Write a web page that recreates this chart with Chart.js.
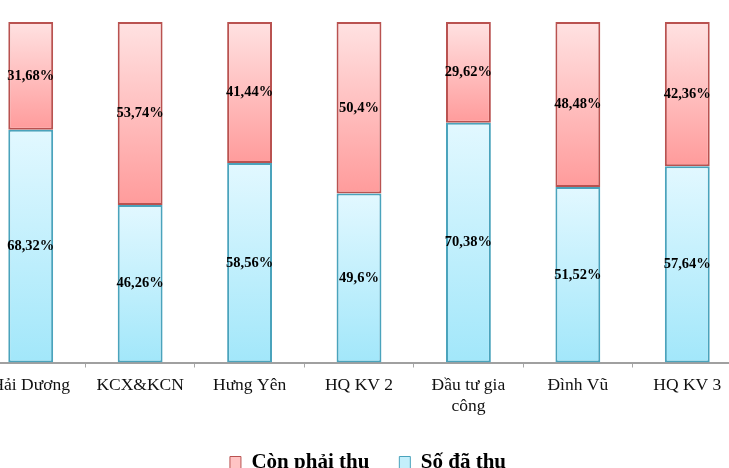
<!DOCTYPE html>
<html>
<head>
<meta charset="utf-8">
<script src="https://cdn.jsdelivr.net/npm/chart.js@4.4.1/dist/chart.umd.min.js"></script>
<style>
  html, body { margin: 0; padding: 0; background: #fff; overflow: hidden; }
  body { width: 729px; height: 468px; position: relative; }
  #chart { position: absolute; left: -24px; top: 0; }
</style>
</head>
<body>
<canvas id="chart" width="784" height="483"></canvas>
<script>
// ---- データ ----
const categories = ['Hải Dương', 'KCX&KCN', 'Hưng Yên', 'HQ KV 2', ['Đầu tư gia', 'công'], 'Đình Vũ', 'HQ KV 3'];
const daThu = [68.32, 46.26, 58.56, 49.6, 70.38, 51.52, 57.64];
const conPhaiThu = [31.68, 53.74, 41.44, 50.4, 29.62, 48.48, 42.36];

const SERIF = '"Liberation Serif", "Times New Roman", serif';

// 区間ごとのグラデーション (上が明るく、下が濃い)
function segGradient(top, bottom) {
    return c => {
        const chart = c.chart;
        const y = chart.scales.y;
        if (!y || c.type !== 'data' || !chart.chartArea) return bottom;
        const i = c.dataIndex;
        let lo = 0;
        for (let d = 0; d < c.datasetIndex; d++) lo += chart.data.datasets[d].data[i];
        const hi = lo + chart.data.datasets[c.datasetIndex].data[i];
        const g = chart.ctx.createLinearGradient(0, y.getPixelForValue(hi), 0, y.getPixelForValue(lo));
        g.addColorStop(0, top);
        g.addColorStop(1, bottom);
        return g;
    };
}

function fmt(v) {
    return String(v).replace('.', ',') + '%';
}

// ---- 値ラベル ----
const valueLabels = {
    id: 'valueLabels',
    afterDatasetsDraw(chart) {
        const ctx = chart.ctx;
        ctx.save();
        ctx.font = 'bold 14.5px ' + SERIF;
        ctx.fillStyle = '#000';
        ctx.textAlign = 'center';
        ctx.textBaseline = 'middle';
        chart.data.datasets.forEach((ds, di) => {
            chart.getDatasetMeta(di).data.forEach((bar, i) => {
                const p = bar.getCenterPoint();
                ctx.fillText(fmt(ds.data[i]), p.x, p.y);
            });
        });
        ctx.restore();
    }
};

const legendFill = { 'Còn phải thu': '#ffc4c4', 'Số đã thu': '#c4effb' };

new Chart(document.getElementById('chart'), {
    type: 'bar',
    data: {
        labels: categories,
        datasets: [
            {
                label: 'Số đã thu',
                data: daThu,
                backgroundColor: segGradient('#e2f8ff', '#a2e7fa'),
                borderColor: '#4aa3bc',
                borderWidth: 2,
                borderSkipped: false,
            },
            {
                label: 'Còn phải thu',
                data: conPhaiThu,
                backgroundColor: segGradient('#ffe2e2', '#ff9b9b'),
                borderColor: '#b95250',
                borderWidth: 2,
                borderSkipped: false,
            }
        ]
    },
    options: {
        responsive: false,
        animation: false,
        layout: { padding: { top: 22, left: 0, right: 0, bottom: 0 } },
        datasets: { bar: { categoryPercentage: 1, barPercentage: 0.41 } },
        plugins: {
            tooltip: { enabled: false },
            legend: {
                position: 'bottom',
                reverse: true,
                labels: {
                    color: '#000',
                    font: { family: SERIF, size: 21, weight: 'bold' },
                    boxWidth: 11,
                    boxHeight: 12,
                    padding: 30,
                    generateLabels: chart => {
                        const items = Chart.defaults.plugins.legend.labels.generateLabels(chart);
                        items.forEach(it => {
                            it.fillStyle = legendFill[it.text];
                            it.lineWidth = 1;
                        });
                        return items;
                    }
                }
            }
        },
        scales: {
            x: {
                stacked: true,
                grid: { display: true, drawOnChartArea: false, offset: true, color: '#a6a6a6', tickLength: 5, lineWidth: 1 },
                border: { display: true, color: '#a0a0a0', width: 2 },
                ticks: { color: '#111', font: { family: SERIF, size: 17.5 }, padding: 7, maxRotation: 0, autoSkip: false },
                afterFit: s => { s.height = 59.5; }
            },
            y: {
                stacked: true,
                position: 'right',
                min: 0,
                max: 100,
                grid: { display: false },
                border: { display: false },
                ticks: { display: false },
                afterFit: s => { s.width = 18; }
            }
        }
    },
    plugins: [valueLabels]
});
</script>
</body>
</html>
